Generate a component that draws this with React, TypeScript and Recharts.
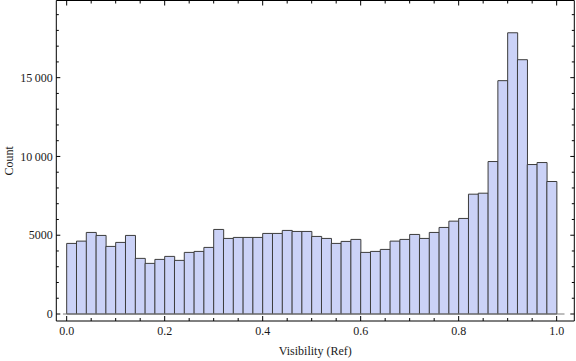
import React from 'react';
import { ComposedChart, Bar, XAxis, YAxis, ReferenceLine } from 'recharts';

// Histogram bins (centre of each 0.02-wide bin)
const binCenters = [
  0.01, 0.03, 0.05, 0.07, 0.09, 0.11, 0.13, 0.15, 0.17, 0.19,
  0.21, 0.23, 0.25, 0.27, 0.29, 0.31, 0.33, 0.35, 0.37, 0.39,
  0.41, 0.43, 0.45, 0.47, 0.49, 0.51, 0.53, 0.55, 0.57, 0.59,
  0.61, 0.63, 0.65, 0.67, 0.69, 0.71, 0.73, 0.75, 0.77, 0.79,
  0.81, 0.83, 0.85, 0.87, 0.89, 0.91, 0.93, 0.95, 0.97, 0.99,
];

const counts = [
  4480, 4626, 5177, 4987, 4290, 4544, 4987, 3530, 3213, 3466,
  3656, 3403, 3910, 3973, 4226, 5367, 4797, 4860, 4860, 4860,
  5114, 5114, 5304, 5240, 5240, 4924, 4797, 4480, 4607, 4734,
  3910, 3973, 4100, 4626, 4734, 5050, 4797, 5177, 5494, 5894,
  6065, 7605, 7668, 9677, 14810, 17850, 16140, 9487, 9613, 8410,
];

const xTicks = [
  0, 0.05, 0.1, 0.15, 0.2, 0.25, 0.3, 0.35, 0.4, 0.45, 0.5,
  0.55, 0.6, 0.65, 0.7, 0.75, 0.8, 0.85, 0.9, 0.95, 1.0,
];
const xTickLabels: Record<string, string> = {
  '0': '0.0', '0.2': '0.2', '0.4': '0.4', '0.6': '0.6', '0.8': '0.8', '1': '1.0',
};

const yTicks = [
  0, 1000, 2000, 3000, 4000, 5000, 6000, 7000, 8000, 9000,
  10000, 11000, 12000, 13000, 14000, 15000, 16000, 17000, 18000, 19000,
];
const yTickLabels: Record<string, string> = {
  '0': '0', '5000': '5000', '10000': '10\u2009000', '15000': '15\u2009000',
};

const data = binCenters.map((x, i) => ({ x, count: counts[i] }));

const FONT = '"Liberation Serif", "DejaVu Serif", serif';
const TEXT = '#1a1a1a';

const BottomTick = (props: any) => {
  const { x, y, payload } = props;
  const label = xTickLabels[String(payload.value)];
  return (
    <g>
      <line x1={x} x2={x} y1={y} y2={y - (label ? 5 : 3)} stroke="#000" strokeWidth={1} />
      {label && (
        <text x={x} y={y + 14} textAnchor="middle" fontFamily={FONT} fontSize={12} fill={TEXT}>
          {label}
        </text>
      )}
    </g>
  );
};

const TopTick = (props: any) => {
  const { x, y, payload } = props;
  const major = xTickLabels[String(payload.value)] !== undefined;
  return <line x1={x} x2={x} y1={y} y2={y + (major ? 5 : 3)} stroke="#000" strokeWidth={1} />;
};

const LeftTick = (props: any) => {
  const { x, y, payload } = props;
  const label = yTickLabels[String(payload.value)];
  return (
    <g>
      <line x1={x} x2={x + (label ? 4 : 2.5)} y1={y} y2={y} stroke="#000" strokeWidth={1} />
      {label && (
        <text x={x - 3.6} y={y} dy="0.35em" textAnchor="end" fontFamily={FONT} fontSize={12} fill={TEXT}>
          {label}
        </text>
      )}
    </g>
  );
};

const RightTick = (props: any) => {
  const { x, y, payload } = props;
  const major = yTickLabels[String(payload.value)] !== undefined;
  return <line x1={x} x2={x - (major ? 4 : 2.5)} y1={y} y2={y} stroke="#000" strokeWidth={1} />;
};

const CountLabel = (props: any) => {
  const { viewBox } = props;
  const cx = viewBox.x + 8.5;
  const cy = viewBox.y + viewBox.height / 2;
  return (
    <text
      x={cx}
      y={cy}
      dy="0.35em"
      transform={`rotate(-90 ${cx} ${cy})`}
      textAnchor="middle"
      fontFamily={FONT}
      fontSize={12}
      fill={TEXT}
    >
      Count
    </text>
  );
};

const XLabel = (props: any) => {
  const { viewBox } = props;
  const cx = viewBox.x + viewBox.width / 2;
  return (
    <text x={cx} y={355} textAnchor="middle" fontFamily={FONT} fontSize={12} fill={TEXT}>
      Visibility (Ref)
    </text>
  );
};

const X_DOMAIN: [number, number] = [-0.0212, 1.036];
const Y_DOMAIN: [number, number] = [-444, 19898];

export default function App() {
  return (
    <div style={{ position: 'absolute', left: 0, top: 0, width: 576, height: 361, background: '#fff' }}>
      <ComposedChart
        width={576}
        height={361}
        data={data}
        margin={{ top: 0, right: 0, bottom: 0, left: 0 }}
        barCategoryGap={0}
        barGap={0}
      >
        <XAxis
          xAxisId="b"
          dataKey="x"
          type="number"
          domain={X_DOMAIN}
          allowDataOverflow
          ticks={xTicks}
          interval={0}
          height={40}
          tickSize={0}
          tickMargin={0}
          tickLine={false}
          axisLine={{ stroke: '#000', strokeWidth: 1 }}
          tick={<BottomTick />}
          label={<XLabel />}
        />
        <XAxis
          xAxisId="t"
          orientation="top"
          dataKey="x"
          type="number"
          domain={X_DOMAIN}
          allowDataOverflow
          ticks={xTicks}
          interval={0}
          height={0.5}
          tickSize={0}
          tickMargin={0}
          tickLine={false}
          axisLine={{ stroke: '#000', strokeWidth: 1 }}
          tick={<TopTick />}
        />
        <YAxis
          yAxisId="l"
          type="number"
          domain={Y_DOMAIN}
          allowDataOverflow
          ticks={yTicks}
          interval={0}
          width={56.3}
          tickSize={0}
          tickMargin={0}
          tickLine={false}
          axisLine={{ stroke: '#000', strokeWidth: 1 }}
          tick={<LeftTick />}
          label={<CountLabel />}
        />
        <YAxis
          yAxisId="r"
          orientation="right"
          type="number"
          domain={Y_DOMAIN}
          allowDataOverflow
          ticks={yTicks}
          interval={0}
          width={1.7}
          tickSize={0}
          tickMargin={0}
          tickLine={false}
          axisLine={{ stroke: '#000', strokeWidth: 1 }}
          tick={<RightTick />}
        />
        <Bar
          xAxisId="b"
          yAxisId="l"
          dataKey="count"
          fill="#CBD2F7"
          stroke="#3c3c3c"
          strokeWidth={1}
          isAnimationActive={false}
        />
        <ReferenceLine
          xAxisId="b"
          yAxisId="l"
          segment={[
            { x: -0.0076, y: 0 },
            { x: 1.016, y: 0 },
          ]}
          stroke="#7a7a7a"
          strokeWidth={1}
          ifOverflow="extendDomain"
        />
      </ComposedChart>
    </div>
  );
}
